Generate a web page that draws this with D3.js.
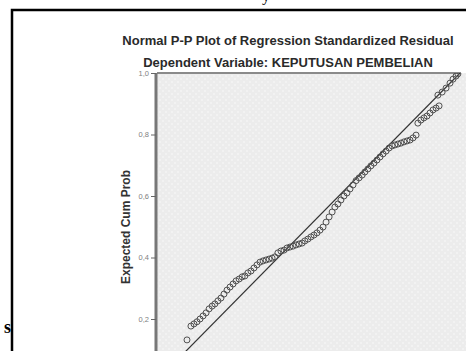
<!DOCTYPE html>
<html>
<head>
<meta charset="utf-8">
<script src="https://cdn.jsdelivr.net/npm/d3@7"></script>
<style>
  html, body { margin: 0; padding: 0; background: #fff; }
  svg { display: block; font-family: "Liberation Sans", Arial, sans-serif; }
</style>
</head>
<body>
<div id="root"></div>
<script>
const WIDTH = 466
const HEIGHT = 351

const PLOT_LEFT = 157
const PLOT_RIGHT = 460
const PLOT_TOP = 73
const PLOT_ZERO_Y = 380.5

const TITLE = 'Normal P-P Plot of Regression Standardized Residual'
const SUBTITLE = 'Dependent Variable: KEPUTUSAN PEMBELIAN'
const Y_LABEL = 'Expected Cum Prob'

const yTicks = [0.2, 0.4, 0.6, 0.8, 1.0]
const yTickLabels = ['0,2', '0,4', '0,6', '0,8', '1,0']

const observedCumProb = [
  0.099, 0.112, 0.122, 0.132, 0.142, 0.152, 0.162, 0.172, 0.182, 0.191,
  0.201, 0.211, 0.221, 0.231, 0.241, 0.251, 0.261, 0.271, 0.281, 0.290,
  0.300, 0.310, 0.320, 0.330, 0.340, 0.350, 0.360, 0.370, 0.380, 0.389,
  0.399, 0.409, 0.419, 0.429, 0.439, 0.449, 0.459, 0.469, 0.479, 0.488,
  0.498, 0.508, 0.518, 0.528, 0.538, 0.548, 0.558, 0.568, 0.578, 0.587,
  0.597, 0.607, 0.617, 0.627, 0.637, 0.647, 0.657, 0.667, 0.677, 0.686,
  0.696, 0.706, 0.716, 0.726, 0.736, 0.746, 0.756, 0.766, 0.776, 0.785,
  0.795, 0.805, 0.815, 0.825, 0.835, 0.845, 0.855, 0.861, 0.871, 0.881,
  0.891, 0.901, 0.911, 0.921, 0.931, 0.927, 0.941, 0.954, 0.967, 0.977,
  0.987, 0.993
]
const expectedCumProb = [
  0.132, 0.177, 0.184, 0.191, 0.200, 0.210, 0.220, 0.233, 0.242, 0.249,
  0.259, 0.268, 0.281, 0.294, 0.304, 0.314, 0.324, 0.330, 0.337, 0.340,
  0.350, 0.356, 0.366, 0.376, 0.385, 0.389, 0.392, 0.395, 0.398, 0.402,
  0.415, 0.421, 0.424, 0.431, 0.434, 0.437, 0.441, 0.444, 0.447, 0.454,
  0.460, 0.467, 0.473, 0.480, 0.489, 0.499, 0.515, 0.532, 0.548, 0.564,
  0.574, 0.587, 0.600, 0.610, 0.623, 0.636, 0.650, 0.659, 0.668, 0.678,
  0.688, 0.698, 0.707, 0.717, 0.727, 0.737, 0.746, 0.756, 0.763, 0.766,
  0.769, 0.772, 0.776, 0.779, 0.782, 0.789, 0.798, 0.837, 0.847, 0.854,
  0.860, 0.870, 0.880, 0.886, 0.893, 0.928, 0.938, 0.951, 0.967, 0.980,
  0.990, 0.997
]

const points = observedCumProb.map((x, i) => ({ x, y: expectedCumProb[i] }))

const xScale = d3.scaleLinear()
  .domain([0, 1])
  .range([PLOT_LEFT, PLOT_RIGHT])

const yScale = d3.scaleLinear()
  .domain([0, 1])
  .range([PLOT_ZERO_Y, PLOT_TOP])

const svg = d3.select('#root')
  .append('svg')
  .attr('width', WIDTH)
  .attr('height', HEIGHT)

const defs = svg.append('defs')

const dots = defs.append('pattern')
  .attr('id', 'dots')
  .attr('patternUnits', 'userSpaceOnUse')
  .attr('width', 6)
  .attr('height', 6)
dots.append('rect').attr('width', 6).attr('height', 6).attr('fill', '#ececec')
dots.append('circle').attr('cx', 1).attr('cy', 1).attr('r', 0.7).attr('fill', '#fff')
dots.append('circle').attr('cx', 4).attr('cy', 4).attr('r', 0.7).attr('fill', '#fff')

defs.append('clipPath')
  .attr('id', 'plot-clip')
  .append('rect')
  .attr('x', PLOT_LEFT)
  .attr('y', PLOT_TOP)
  .attr('width', WIDTH - PLOT_LEFT)
  .attr('height', HEIGHT - PLOT_TOP)

// stray text of the page the chart was cut from
svg.append('text')
  .attr('x', 262)
  .attr('y', 1)
  .style('font-family', '"Liberation Serif", serif')
  .style('font-size', '16px')
  .text('y')

svg.append('text')
  .attr('x', 4)
  .attr('y', 333)
  .style('font-family', '"Liberation Serif", serif')
  .style('font-size', '18px')
  .style('font-weight', 'bold')
  .text('s')

// outer frame
svg.append('rect')
  .attr('x', 12)
  .attr('y', 10)
  .attr('width', WIDTH + 20)
  .attr('height', HEIGHT + 20)
  .attr('fill', 'none')
  .attr('stroke', '#000')
  .attr('stroke-width', 2.5)

// titles
svg.append('text')
  .attr('x', 288)
  .attr('y', 45)
  .attr('text-anchor', 'middle')
  .style('font-size', '13px')
  .style('font-weight', 'bold')
  .style('fill', '#2a2a2a')
  .text(TITLE)

svg.append('text')
  .attr('x', 288)
  .attr('y', 67)
  .attr('text-anchor', 'middle')
  .style('font-size', '13px')
  .style('font-weight', 'bold')
  .style('fill', '#2a2a2a')
  .text(SUBTITLE)

// plot background
svg.append('rect')
  .attr('x', PLOT_LEFT)
  .attr('y', PLOT_TOP)
  .attr('width', WIDTH - PLOT_LEFT)
  .attr('height', HEIGHT - PLOT_TOP)
  .attr('fill', 'url(#dots)')

svg.append('line')
  .attr('x1', PLOT_LEFT)
  .attr('x2', xScale(1) + 1)
  .attr('y1', yScale(1))
  .attr('y2', yScale(1))
  .attr('stroke', '#8a8a8a')
  .attr('stroke-width', 2)

// y axis
const yAxis = d3.axisLeft(yScale)
  .tickValues(yTicks)
  .tickFormat((d, i) => yTickLabels[i])
  .tickSize(5)
  .tickPadding(2)

const yAxisGroup = svg.append('g')
  .attr('transform', `translate(${PLOT_LEFT - 1}, 0)`)
  .call(yAxis)

yAxisGroup.select('.domain')
  .attr('d', `M0,${yScale(1)}V${HEIGHT + 5}`)
  .attr('stroke', '#777')
  .attr('stroke-width', 3)

yAxisGroup.selectAll('.tick line')
  .attr('stroke', '#666')
  .attr('stroke-width', 1)

yAxisGroup.selectAll('.tick text')
  .style('font-size', '7.5px')
  .style('fill', '#808080')
  .style('font-family', '"Liberation Sans", Arial, sans-serif')

svg.append('text')
  .attr('transform', `translate(130, 227) rotate(-90)`)
  .attr('text-anchor', 'middle')
  .style('font-size', '12px')
  .style('font-weight', 'bold')
  .style('fill', '#333')
  .text(Y_LABEL)

const plot = svg.append('g').attr('clip-path', 'url(#plot-clip)')

// reference diagonal
plot.append('path')
  .datum([{ x: 0, y: 0 }, { x: 1, y: 1 }])
  .attr('d', d3.line().x(d => xScale(d.x)).y(d => yScale(d.y)))
  .attr('fill', 'none')
  .attr('stroke', '#333')
  .attr('stroke-width', 1.2)

plot.selectAll('circle')
  .data(points)
  .enter()
  .append('circle')
  .attr('cx', d => xScale(d.x))
  .attr('cy', d => yScale(d.y))
  .attr('r', 3)
  .attr('fill', 'none')
  .attr('stroke', '#505050')
  .attr('stroke-width', 1)
</script>
</body>
</html>
